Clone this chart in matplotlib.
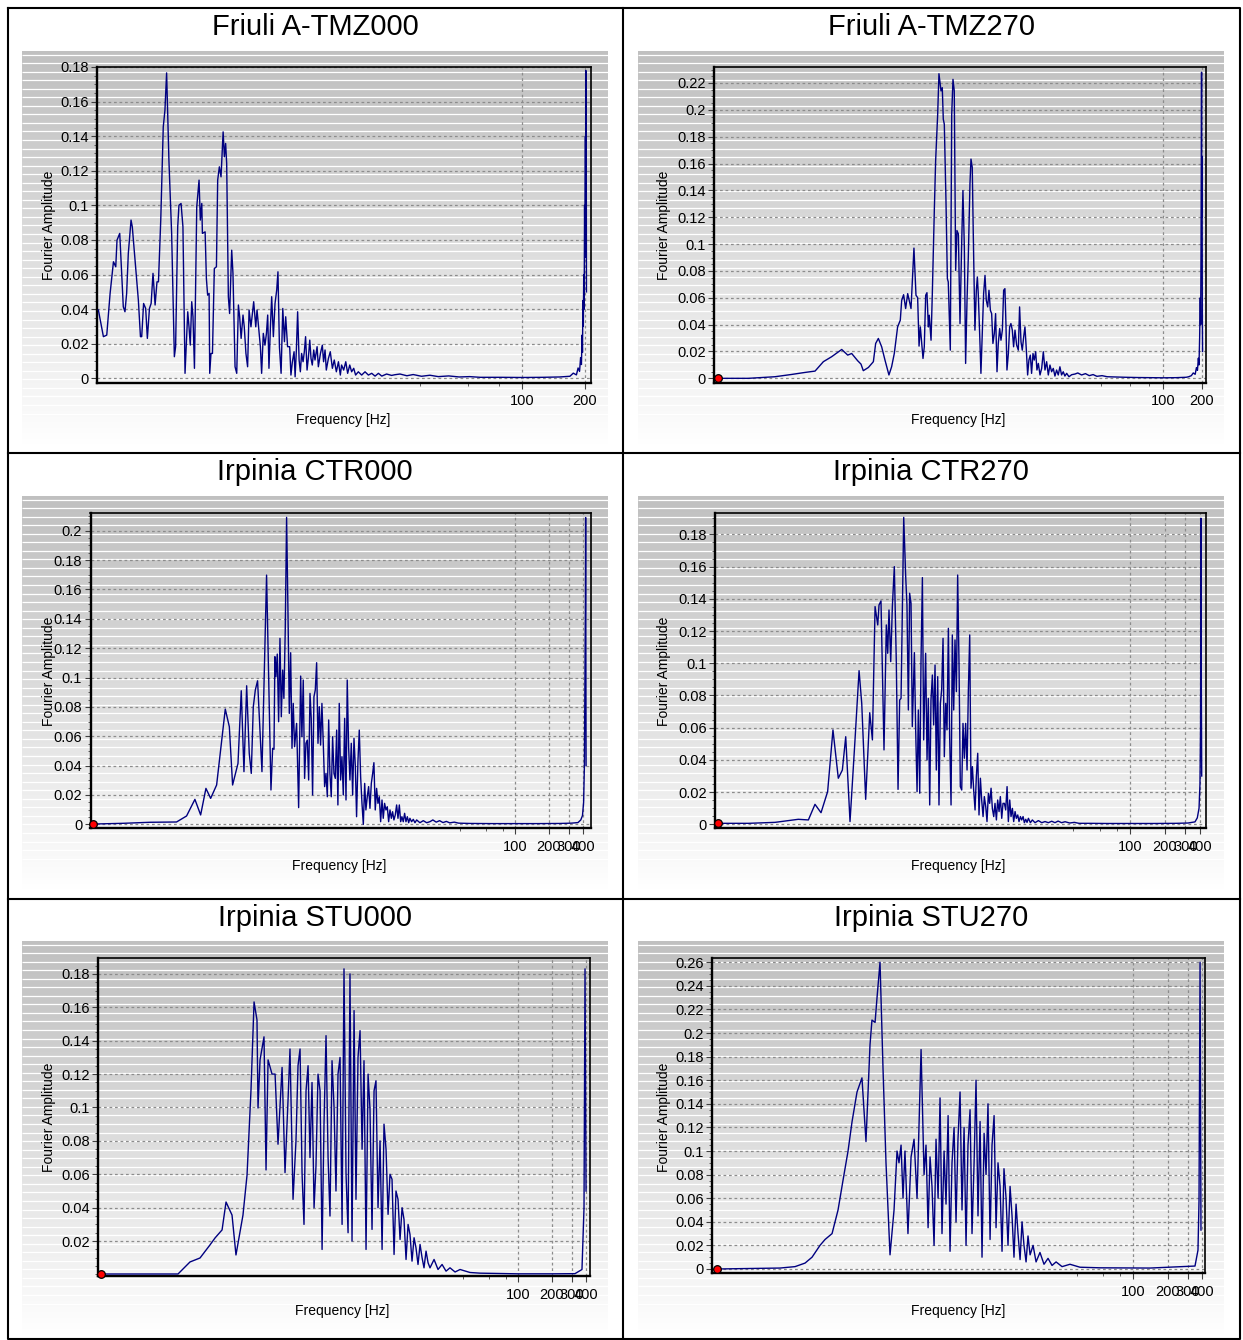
import numpy as np
import matplotlib
matplotlib.use("Agg")
import matplotlib.pyplot as plt
from matplotlib.ticker import FixedLocator, MultipleLocator, FuncFormatter, NullFormatter

plt.rcParams['font.family'] = ['Liberation Sans', 'DejaVu Sans']

# ---------------- data (log10 of frequency in Hz, Fourier amplitude) ----------------
friuli_tmz000_logf = [-0.024, -0.000, 0.016, 0.032, 0.048, 0.059, 0.065, 0.078, 0.084, 0.095, 0.103, 0.111, 0.119, 0.132, 0.138, 0.154, 0.167, 0.177, 0.183, 0.192, 0.202, 0.210, 0.220, 0.228, 0.237, 0.247, 0.256, 0.263, 0.274, 0.286, 0.294, 0.302, 0.313, 0.326, 0.339, 0.345, 0.355, 0.361, 0.371, 0.380, 0.390, 0.403, 0.409, 0.415, 0.422, 0.428, 0.435, 0.446, 0.457, 0.463, 0.470, 0.473, 0.486, 0.492, 0.498, 0.505, 0.508, 0.514, 0.521, 0.530, 0.540, 0.546, 0.554, 0.562, 0.572, 0.578, 0.584, 0.589, 0.597, 0.603, 0.613, 0.619, 0.629, 0.637, 0.645, 0.651, 0.658, 0.667, 0.673, 0.681, 0.689, 0.696, 0.705, 0.712, 0.718, 0.728, 0.734, 0.740, 0.750, 0.756, 0.764, 0.772, 0.779, 0.785, 0.791, 0.798, 0.804, 0.812, 0.820, 0.828, 0.834, 0.841, 0.849, 0.857, 0.865, 0.871, 0.880, 0.890, 0.896, 0.903, 0.911, 0.916, 0.922, 0.928, 0.935, 0.941, 0.947, 0.954, 0.960, 0.966, 0.973, 0.979, 0.986, 0.992, 0.998, 1.005, 1.011, 1.021, 1.027, 1.037, 1.046, 1.052, 1.059, 1.065, 1.075, 1.084, 1.094, 1.103, 1.113, 1.123, 1.132, 1.138, 1.148, 1.158, 1.167, 1.177, 1.186, 1.196, 1.205, 1.218, 1.234, 1.250, 1.266, 1.282, 1.298, 1.314, 1.330, 1.353, 1.377, 1.393,
                      1.417, 1.45, 1.48, 1.52, 1.56, 1.60, 1.65, 1.70, 1.75, 1.80, 1.90, 2.00, 2.10, 2.18, 2.229, 2.245, 2.26, 2.268, 2.275, 2.28, 2.284, 2.287, 2.289, 2.291, 2.293, 2.295, 2.297, 2.299, 2.301, 2.303, 2.304, 2.305, 2.306, 2.307, 2.308]
friuli_tmz000_amp = [0.0395, 0.0241, 0.0250, 0.0491, 0.0674, 0.0645, 0.0799, 0.0838, 0.0684, 0.0414, 0.0385, 0.0491, 0.0722, 0.0915, 0.0876, 0.0645, 0.0452, 0.0241, 0.0241, 0.0433, 0.0404, 0.0231, 0.0404, 0.0433, 0.0607, 0.0424, 0.0558, 0.0558, 0.0915, 0.1454, 0.1550, 0.1766, 0.1261, 0.0838, 0.0125, 0.0183, 0.0876, 0.1001, 0.1011, 0.0876, 0.0029, 0.0385, 0.0298, 0.0192, 0.0443, 0.0356, 0.0058, 0.0992, 0.1146, 0.0915, 0.1011, 0.0838, 0.0847, 0.0578, 0.0481, 0.0491, 0.0029, 0.0144, 0.0144, 0.0635, 0.0645, 0.1146, 0.1223, 0.1165, 0.1425, 0.1281, 0.1358, 0.1242, 0.0472, 0.0375, 0.0741, 0.0607, 0.0067, 0.0029, 0.0424, 0.0356, 0.0231, 0.0366, 0.0298, 0.0144, 0.0067, 0.0395, 0.0298, 0.0375, 0.0443, 0.0298, 0.0395, 0.0318, 0.0183, 0.0029, 0.0260, 0.0192, 0.0260, 0.0366, 0.0058, 0.0298, 0.0472, 0.0241, 0.0433, 0.0510, 0.0616, 0.0183, 0.0029, 0.0404, 0.0212, 0.0356, 0.0183, 0.0183, 0.0019, 0.0096, 0.0154, 0.0009, 0.0164, 0.0385, 0.0106, 0.0038, 0.0144, 0.0096, 0.0154, 0.0241, 0.0048, 0.0115, 0.0221, 0.0115, 0.0077, 0.0164, 0.0106, 0.0183, 0.0067, 0.0144, 0.0192, 0.0096, 0.0164, 0.0048, 0.0115, 0.0154, 0.0058, 0.0106, 0.0038, 0.0096, 0.0019, 0.0077, 0.0048, 0.0096, 0.0029, 0.0077, 0.0038, 0.0058, 0.0019, 0.0038, 0.0019, 0.0038, 0.0019, 0.0029, 0.0013, 0.0029, 0.0013, 0.0025, 0.0017, 0.0021,
                     0.0025, 0.0015, 0.0022, 0.0012, 0.0018, 0.0010, 0.0014, 0.0008, 0.0010, 0.0006, 0.0006, 0.0005, 0.0006, 0.0008, 0.0012, 0.0030, 0.0020, 0.0060, 0.0040, 0.0120, 0.0080, 0.0250, 0.0150, 0.0450, 0.0300, 0.0600, 0.0400, 0.1000, 0.0700, 0.1400, 0.0900, 0.1780, 0.1000, 0.1400, 0.0500]

friuli_tmz270_logf = [-1.492, -1.252, -1.043, -0.912, -0.808, -0.729, -0.664, -0.599, -0.520, -0.473, -0.442, -0.395, -0.369, -0.351, -0.311, -0.272, -0.254, -0.233, -0.207, -0.181, -0.150, -0.129, -0.108, -0.082, -0.061, -0.050, -0.035, -0.019, -0.003, 0.023, 0.046, 0.062, 0.075, 0.086, 0.096, 0.117, 0.127, 0.138, 0.148, 0.159, 0.166, 0.180, 0.190, 0.206, 0.216, 0.232, 0.242, 0.258, 0.268, 0.276, 0.284, 0.297, 0.308, 0.315, 0.331, 0.342, 0.352, 0.362, 0.373, 0.383, 0.394, 0.407, 0.420, 0.430, 0.441, 0.451, 0.462, 0.472, 0.485, 0.493, 0.503, 0.511, 0.524, 0.535, 0.543, 0.550, 0.561, 0.571, 0.582, 0.592, 0.603, 0.613, 0.624, 0.634, 0.645, 0.655, 0.665, 0.676, 0.686, 0.697, 0.707, 0.718, 0.728, 0.739, 0.749, 0.759, 0.767, 0.775, 0.786, 0.796, 0.806, 0.817, 0.827, 0.838, 0.851, 0.864, 0.874, 0.885, 0.895, 0.906, 0.916, 0.927, 0.937, 0.947, 0.958, 0.968, 0.979, 0.989, 1.000, 1.010, 1.021, 1.034, 1.047, 1.060, 1.073, 1.086, 1.099, 1.112, 1.125, 1.138, 1.151, 1.164, 1.177, 1.190, 1.203, 1.216, 1.229, 1.243, 1.261, 1.282, 1.308,
                      1.33, 1.36, 1.39, 1.42, 1.45, 1.48, 1.52, 1.56, 1.62, 1.70, 1.80, 1.90, 2.00, 2.10, 2.18, 2.20, 2.22, 2.235, 2.25, 2.26, 2.268, 2.275, 2.28, 2.285, 2.29, 2.293, 2.296, 2.298, 2.300, 2.302, 2.304, 2.306, 2.308]
friuli_tmz270_amp = [0.0000, 0.0000, 0.0012, 0.0029, 0.0044, 0.0054, 0.0124, 0.0161, 0.0215, 0.0173, 0.0185, 0.0131, 0.0106, 0.0057, 0.0081, 0.0124, 0.0260, 0.0297, 0.0235, 0.0136, 0.0025, 0.0086, 0.0185, 0.0383, 0.0433, 0.0581, 0.0623, 0.0520, 0.0631, 0.0520, 0.0970, 0.0619, 0.0601, 0.0240, 0.0383, 0.0148, 0.0235, 0.0619, 0.0638, 0.0383, 0.0470, 0.0284, 0.0631, 0.1262, 0.1621, 0.1967, 0.2269, 0.2141, 0.2165, 0.1930, 0.1893, 0.1324, 0.0742, 0.0718, 0.0210, 0.1967, 0.2227, 0.2141, 0.0804, 0.1101, 0.1076, 0.0408, 0.1002, 0.1398, 0.0977, 0.0111, 0.0581, 0.0903, 0.1448, 0.1633, 0.1571, 0.1076, 0.0359, 0.0656, 0.0755, 0.0631, 0.0334, 0.0037, 0.0359, 0.0631, 0.0767, 0.0581, 0.0532, 0.0656, 0.0507, 0.0482, 0.0260, 0.0334, 0.0482, 0.0049, 0.0260, 0.0371, 0.0284, 0.0359, 0.0656, 0.0668, 0.0408, 0.0062, 0.0185, 0.0383, 0.0408, 0.0359, 0.0235, 0.0359, 0.0247, 0.0210, 0.0532, 0.0272, 0.0210, 0.0309, 0.0383, 0.0210, 0.0025, 0.0136, 0.0173, 0.0037, 0.0185, 0.0136, 0.0198, 0.0062, 0.0111, 0.0025, 0.0074, 0.0198, 0.0062, 0.0124, 0.0025, 0.0099, 0.0049, 0.0074, 0.0017, 0.0062, 0.0025, 0.0086, 0.0025, 0.0049, 0.0017, 0.0037, 0.0012, 0.0027, 0.0032,
                     0.0040, 0.0025, 0.0035, 0.0020, 0.0028, 0.0015, 0.0020, 0.0012, 0.0010, 0.0008, 0.0006, 0.0005, 0.0004, 0.0005, 0.0008, 0.0012, 0.0020, 0.0040, 0.0030, 0.0080, 0.0060, 0.0150, 0.0100, 0.0300, 0.0600, 0.0400, 0.1000, 0.1600, 0.2280, 0.1200, 0.1650, 0.0500, 0.0200]

irpinia_ctr000_logf = [-1.748, -1.482, -1.245, -1.008, -0.919, -0.845, -0.794, -0.747, -0.705, -0.652, -0.617, -0.575, -0.539, -0.510, -0.462, -0.433, -0.409, -0.385, -0.362, -0.344, -0.326, -0.308, -0.288, -0.249, -0.208, -0.169, -0.154, -0.142, -0.134, -0.125, -0.113, -0.101, -0.089, -0.077, -0.065, -0.054, -0.042, -0.030, -0.018, -0.006, 0.006, 0.018, 0.029, 0.041, 0.059, 0.077, 0.095, 0.106, 0.118, 0.130, 0.142, 0.154, 0.166, 0.178, 0.189, 0.201, 0.213, 0.225, 0.237, 0.249, 0.261, 0.272, 0.284, 0.296, 0.308, 0.320, 0.332, 0.344, 0.355, 0.367, 0.379, 0.391, 0.403, 0.415, 0.426, 0.438, 0.450, 0.462, 0.474, 0.486, 0.498, 0.509, 0.521, 0.533, 0.545, 0.557, 0.569, 0.581, 0.592, 0.604, 0.616, 0.628, 0.640, 0.652, 0.664, 0.675, 0.687, 0.699, 0.711, 0.723, 0.735, 0.746, 0.758, 0.770, 0.782, 0.794, 0.806, 0.818, 0.829, 0.841, 0.853, 0.865, 0.877, 0.889, 0.901, 0.912, 0.924, 0.936, 0.948, 0.960, 0.972, 0.984, 0.995, 1.007, 1.019, 1.031, 1.043, 1.055, 1.066, 1.081, 1.096, 1.111, 1.126, 1.155, 1.185, 1.215, 1.244,
                       1.27, 1.30, 1.33, 1.36, 1.39, 1.42, 1.46, 1.50, 1.60, 1.80, 2.00, 2.20, 2.40, 2.50, 2.56, 2.585, 2.60, 2.61, 2.617, 2.622, 2.626, 2.628, 2.630, 2.632]
irpinia_ctr000_amp = [0.0002, 0.0007, 0.0014, 0.0016, 0.0057, 0.0170, 0.0064, 0.0245, 0.0177, 0.0268, 0.0506, 0.0785, 0.0665, 0.0268, 0.0415, 0.0910, 0.0359, 0.0944, 0.0484, 0.0347, 0.0801, 0.0915, 0.0978, 0.0359, 0.1698, 0.0234, 0.0518, 0.0511, 0.1142, 0.1006, 0.1160, 0.0699, 0.1267, 0.0733, 0.1051, 0.0858, 0.1323, 0.2091, 0.1460, 0.0756, 0.1169, 0.0518, 0.0824, 0.0529, 0.0688, 0.0114, 0.1010, 0.0597, 0.0983, 0.0313, 0.0552, 0.0574, 0.0302, 0.0892, 0.0722, 0.0200, 0.0869, 0.0915, 0.1101, 0.0552, 0.0801, 0.0540, 0.0824, 0.0552, 0.0257, 0.0347, 0.0188, 0.0711, 0.0347, 0.0188, 0.0597, 0.0347, 0.0313, 0.0642, 0.0132, 0.0824, 0.0302, 0.0461, 0.0200, 0.0722, 0.0166, 0.0983, 0.0529, 0.0302, 0.0552, 0.0200, 0.0586, 0.0393, 0.0052, 0.0427, 0.0642, 0.0325, 0.0143, 0.0000, 0.0279, 0.0098, 0.0188, 0.0257, 0.0109, 0.0279, 0.0347, 0.0420, 0.0098, 0.0245, 0.0143, 0.0188, 0.0018, 0.0166, 0.0041, 0.0143, 0.0098, 0.0120, 0.0018, 0.0098, 0.0041, 0.0086, 0.0030, 0.0064, 0.0132, 0.0041, 0.0132, 0.0018, 0.0052, 0.0018, 0.0075, 0.0018, 0.0052, 0.0011, 0.0041, 0.0018, 0.0034, 0.0011, 0.0030, 0.0011, 0.0025, 0.0011, 0.0018,
                      0.0030, 0.0015, 0.0025, 0.0012, 0.0020, 0.0010, 0.0015, 0.0008, 0.0006, 0.0005, 0.0005, 0.0005, 0.0006, 0.0008, 0.0012, 0.0030, 0.0060, 0.0150, 0.0400, 0.1000, 0.1500, 0.2090, 0.1200, 0.0400]

irpinia_ctr270_logf = [-1.555, -1.291, -1.061, -0.860, -0.773, -0.716, -0.664, -0.607, -0.561, -0.515, -0.480, -0.451, -0.414, -0.371, -0.336, -0.313, -0.279, -0.244, -0.221, -0.198, -0.175, -0.164, -0.147, -0.121, -0.101, -0.089, -0.078, -0.063, -0.049, -0.032, -0.015, -0.000, 0.014, 0.026, 0.049, 0.066, 0.077, 0.089, 0.100, 0.112, 0.123, 0.141, 0.152, 0.164, 0.175, 0.187, 0.198, 0.210, 0.221, 0.238, 0.250, 0.261, 0.273, 0.284, 0.296, 0.307, 0.319, 0.330, 0.342, 0.353, 0.365, 0.376, 0.388, 0.399, 0.411, 0.422, 0.434, 0.445, 0.457, 0.468, 0.480, 0.491, 0.503, 0.514, 0.526, 0.537, 0.549, 0.560, 0.572, 0.583, 0.595, 0.606, 0.618, 0.629, 0.641, 0.652, 0.664, 0.675, 0.687, 0.698, 0.710, 0.721, 0.733, 0.744, 0.756, 0.767, 0.779, 0.790, 0.802, 0.813, 0.825, 0.836, 0.848, 0.859, 0.871, 0.882, 0.894, 0.905, 0.917, 0.928, 0.940, 0.951, 0.963, 0.974, 0.986, 0.997, 1.009, 1.020, 1.032, 1.043, 1.055, 1.066, 1.078, 1.089, 1.101, 1.112, 1.124, 1.141, 1.158, 1.181, 1.210, 1.239, 1.267, 1.296, 1.325, 1.353,
                       1.38, 1.41, 1.44, 1.48, 1.52, 1.56, 1.65, 1.80, 2.00, 2.20, 2.40, 2.50, 2.56, 2.58, 2.595, 2.603, 2.608, 2.612, 2.615, 2.618]
irpinia_ctr270_amp = [0.0006, 0.0006, 0.0012, 0.0031, 0.0027, 0.0124, 0.0072, 0.0203, 0.0586, 0.0286, 0.0337, 0.0544, 0.0017, 0.0524, 0.0954, 0.0751, 0.0155, 0.0693, 0.0524, 0.1352, 0.1238, 0.1362, 0.1387, 0.0462, 0.1238, 0.1062, 0.1331, 0.1010, 0.1352, 0.1600, 0.1010, 0.0217, 0.0772, 0.0782, 0.1906, 0.1538, 0.1362, 0.0710, 0.1435, 0.1372, 0.0607, 0.1066, 0.0586, 0.0203, 0.0710, 0.0193, 0.1010, 0.1532, 0.0524, 0.1062, 0.0400, 0.0782, 0.0120, 0.0772, 0.0927, 0.0617, 0.0989, 0.0337, 0.0917, 0.0120, 0.0751, 0.0834, 0.1155, 0.0420, 0.0751, 0.0586, 0.1217, 0.0544, 0.0120, 0.1176, 0.0710, 0.1145, 0.0824, 0.1548, 0.0979, 0.0234, 0.0213, 0.0627, 0.0410, 0.0627, 0.0337, 0.0824, 0.1176, 0.0224, 0.0358, 0.0213, 0.0089, 0.0296, 0.0441, 0.0058, 0.0286, 0.0151, 0.0048, 0.0172, 0.0110, 0.0017, 0.0193, 0.0130, 0.0224, 0.0099, 0.0048, 0.0130, 0.0027, 0.0151, 0.0079, 0.0172, 0.0037, 0.0130, 0.0130, 0.0089, 0.0234, 0.0017, 0.0151, 0.0048, 0.0099, 0.0017, 0.0079, 0.0037, 0.0058, 0.0017, 0.0048, 0.0027, 0.0048, 0.0010, 0.0031, 0.0012, 0.0037, 0.0010, 0.0027, 0.0010, 0.0023, 0.0010, 0.0017, 0.0010, 0.0019, 0.0010,
                      0.0020, 0.0010, 0.0016, 0.0008, 0.0012, 0.0006, 0.0006, 0.0005, 0.0005, 0.0005, 0.0006, 0.0008, 0.0015, 0.0040, 0.0100, 0.0250, 0.0600, 0.1900, 0.0800, 0.0300]

irpinia_stu000_logf = [-1.690, -1.009, -0.903, -0.814, -0.726, -0.681, -0.619, -0.584, -0.531, -0.496, -0.434, -0.398, -0.363, -0.336, -0.310, -0.301, -0.283, -0.248, -0.230, -0.212,
                       -0.177, -0.150, -0.124, -0.088, -0.062, -0.035, -0.018, 0.009,
                       0.035, 0.053, 0.071, 0.089, 0.106, 0.124, 0.142, 0.159, 0.177, 0.195, 0.212, 0.230, 0.248, 0.266, 0.283, 0.301, 0.319, 0.336, 0.354, 0.372, 0.389, 0.407, 0.425, 0.443, 0.460, 0.478, 0.496, 0.513, 0.531, 0.549, 0.566, 0.584, 0.602, 0.620, 0.637, 0.655, 0.673, 0.690, 0.708, 0.726, 0.743, 0.761, 0.779, 0.797, 0.814, 0.832, 0.850, 0.867, 0.885, 0.903, 0.920, 0.938, 0.956, 0.974, 0.991, 1.009, 1.027, 1.044, 1.062, 1.080, 1.097, 1.115, 1.133, 1.151, 1.168, 1.186, 1.204, 1.221, 1.257, 1.292, 1.328, 1.363, 1.398, 1.443, 1.487, 1.575, 1.664,
                       2.000, 2.300, 2.504, 2.566, 2.584, 2.593, 2.602]
irpinia_stu000_amp = [0.0003, 0.0003, 0.0075, 0.0099, 0.0177, 0.0219, 0.0267, 0.0434, 0.0356, 0.0117, 0.0356, 0.0596, 0.1105, 0.1632, 0.1524, 0.0997, 0.1285, 0.1423, 0.0626, 0.1285,
                      0.120, 0.120, 0.078, 0.124, 0.061, 0.105, 0.135, 0.045,
                      0.080, 0.125, 0.135, 0.060, 0.030, 0.110, 0.125, 0.070, 0.115, 0.040, 0.065, 0.120, 0.110, 0.015, 0.090, 0.143, 0.070, 0.035, 0.128, 0.100, 0.050, 0.120, 0.130, 0.030, 0.183, 0.060, 0.025, 0.180, 0.020, 0.158, 0.045, 0.130, 0.146, 0.075, 0.128, 0.015, 0.120, 0.099, 0.027, 0.110, 0.116, 0.040, 0.080, 0.015, 0.090, 0.075, 0.036, 0.060, 0.057, 0.012, 0.050, 0.045, 0.021, 0.040, 0.033, 0.009, 0.030, 0.024, 0.008, 0.022, 0.016, 0.006, 0.018, 0.010, 0.004, 0.014, 0.007, 0.004, 0.009, 0.003, 0.006, 0.002, 0.004, 0.0015, 0.003, 0.0012, 0.0008,
                      0.0004, 0.0004, 0.0005, 0.0030, 0.0400, 0.1830, 0.0500]

irpinia_stu270_logf = [-1.617, -1.070, -0.939, -0.852, -0.791, -0.722, -0.678, -0.617, -0.565, -0.522, -0.478, -0.443, -0.400, -0.357, -0.322, -0.287, -0.270, -0.243, -0.226, -0.200, -0.174, -0.148, -0.113, -0.078, -0.052, -0.035, -0.017, 0.000, 0.017, 0.043, 0.070, 0.096, 0.122, 0.157,
                       0.183, 0.200, 0.218, 0.235, 0.252, 0.270, 0.287, 0.305, 0.322, 0.339, 0.357, 0.374, 0.392, 0.409, 0.426, 0.444, 0.461, 0.478, 0.496, 0.513, 0.531, 0.548, 0.565, 0.583, 0.600, 0.618, 0.635, 0.652, 0.670, 0.687, 0.705, 0.722, 0.739, 0.757, 0.774, 0.792, 0.809, 0.826, 0.844, 0.861, 0.878, 0.896, 0.913, 0.931, 0.948, 0.965, 0.983, 1.000, 1.018, 1.035, 1.052, 1.070, 1.087, 1.105, 1.131, 1.157, 1.191, 1.226, 1.261, 1.296, 1.331, 1.383, 1.452, 1.539, 1.713,
                       2.148, 2.539, 2.565, 2.574, 2.583, 2.591]
irpinia_stu270_amp = [0.0000, 0.0008, 0.0020, 0.0050, 0.0100, 0.0200, 0.0250, 0.0300, 0.0500, 0.0750, 0.1000, 0.1250, 0.1500, 0.1620, 0.1080, 0.1900, 0.2110, 0.2090, 0.2300, 0.2600, 0.1700, 0.0900, 0.0120, 0.0500, 0.1000, 0.0900, 0.1050, 0.0600, 0.1000, 0.0300, 0.0950, 0.1100, 0.0600, 0.1860,
                      0.080, 0.105, 0.035, 0.095, 0.070, 0.020, 0.110, 0.060, 0.145, 0.030, 0.100, 0.055, 0.130, 0.015, 0.090, 0.120, 0.040, 0.110, 0.150, 0.050, 0.120, 0.020, 0.105, 0.135, 0.030, 0.090, 0.160, 0.045, 0.125, 0.010, 0.115, 0.080, 0.140, 0.025, 0.105, 0.130, 0.035, 0.090, 0.070, 0.015, 0.085, 0.060, 0.020, 0.070, 0.045, 0.010, 0.055, 0.030, 0.008, 0.040, 0.020, 0.006, 0.028, 0.012, 0.020, 0.006, 0.014, 0.004, 0.009, 0.003, 0.006, 0.002, 0.004, 0.0015, 0.001,
                      0.0008, 0.0025, 0.0160, 0.0580, 0.2600, 0.0330]

titles = ['Friuli A-TMZ000', 'Friuli A-TMZ270', 'Irpinia CTR000', 'Irpinia CTR270', 'Irpinia STU000', 'Irpinia STU270']
x_label = 'Frequency [Hz]'
y_label = 'Fourier Amplitude'
xtick_friuli = [100, 200]
xtick_irpinia = [100, 200, 300, 400]
xtick_minor = [32.5, 55, 77.5]

series = [
    (friuli_tmz000_logf, friuli_tmz000_amp),
    (friuli_tmz270_logf, friuli_tmz270_amp),
    (irpinia_ctr000_logf, irpinia_ctr000_amp),
    (irpinia_ctr270_logf, irpinia_ctr270_amp),
    (irpinia_stu000_logf, irpinia_stu000_amp),
    (irpinia_stu270_logf, irpinia_stu270_amp),
]

# ---------------- layout (pixels) ----------------
W, H = 1243, 1340
layout = [
    dict(box=(97, 67, 591, 382.5), ylim=(-0.0024, 0.18), xlim=(-0.0306, 2.3297), yt=(0.0, 0.18), xt=xtick_friuli, dot=False),
    dict(box=(714, 67, 1205.5, 382.5), ylim=(-0.0031, 0.2319), xlim=(-1.521, 2.331), yt=(0.0, 0.22), xt=xtick_friuli, dot=True),
    dict(box=(90.5, 512.7, 590.7, 828.3), ylim=(-0.0027, 0.2123), xlim=(-1.773, 2.673), yt=(0.0, 0.20), xt=xtick_irpinia, dot=True),
    dict(box=(715, 512.7, 1206, 828), ylim=(-0.0023, 0.1935), xlim=(-1.578, 2.655), yt=(0.0, 0.18), xt=xtick_irpinia, dot=True),
    dict(box=(98, 958, 590, 1276), ylim=(-0.0009, 0.1895), xlim=(-1.717, 2.637), yt=(0.02, 0.18), xt=xtick_irpinia, dot=True),
    dict(box=(712, 958, 1205, 1273), ylim=(-0.0034, 0.2636), xlim=(-1.661, 2.626), yt=(0.0, 0.26), xt=xtick_irpinia, dot=True),
]
title_pos = [(315, 27), (931, 27), (315, 472), (931, 472), (315, 918), (931, 918)]
xlabel_pos = [(343, 420), (958, 420), (339, 866), (958, 866), (342, 1311), (958, 1311)]
ylabel_pos = [(49, 225), (664, 225), (49, 671), (664, 671), (49, 1117), (664, 1117)]
bg_cols = [(22, 608), (638, 1224)]
bg_rows = [(51, 445), (496, 890), (941, 1335)]

fig = plt.figure(figsize=(W / 100, H / 100), dpi=100)
fig.patch.set_facecolor('white')

bg = fig.add_axes([0, 0, 1, 1])
bg.set_xlim(0, W)
bg.set_ylim(H, 0)
bg.axis('off')

for (y0, y1) in bg_rows:
    t = np.linspace(0, 1, 256)
    g = 0.755 + 0.245 * t ** 1.15
    img = np.repeat(g[:, None], 2, axis=1)
    rgb = np.dstack([img, img, img])
    for (x0, x1) in bg_cols:
        bg.imshow(rgb, extent=(x0, x1, y1, y0), aspect='auto', interpolation='bilinear', zorder=0)
        ys = np.arange(y0 + 3.5, y1 - 25, 8.55)
        bg.hlines(ys, x0, x1, colors='white', linewidth=0.9, zorder=1)

# table borders
lw_tab = 1.5
bg.plot([8, 1240, 1240, 8, 8], [8, 8, 1339, 1339, 8], color='black', lw=lw_tab, zorder=3)
bg.plot([623, 623], [8, 1339], color='black', lw=lw_tab, zorder=3)
bg.plot([8, 1240], [453, 453], color='black', lw=lw_tab, zorder=3)
bg.plot([8, 1240], [899, 899], color='black', lw=lw_tab, zorder=3)
bg.set_xlim(0, W)
bg.set_ylim(H, 0)


def rect(l, t, r, b):
    return [l / W, 1 - b / H, (r - l) / W, (b - t) / H]


fmt = FuncFormatter(lambda v, p: f"{round(v, 4):g}")
grid_kw = dict(color='#8c8c8c', linestyle=(0, (2.2, 2.2)), linewidth=0.9)

for i, ((lf, amp), L) in enumerate(zip(series, layout)):
    assert len(lf) == len(amp), (i, len(lf), len(amp))
    ax = fig.add_axes(rect(*L['box']))
    ax.patch.set_alpha(0)
    freq = 10 ** np.array(lf)
    ax.plot(freq, amp, color='#000080', lw=1.0, zorder=3)
    if L['dot']:
        ax.plot(freq[0], amp[0], 'o', ms=5.5, mfc='#ff0000', mec='black', mew=0.9, clip_on=False, zorder=5)
    ax.set_xscale('log')
    ax.set_xlim(10 ** L['xlim'][0], 10 ** L['xlim'][1])
    ax.set_ylim(*L['ylim'])
    ax.xaxis.set_major_locator(FixedLocator(L['xt']))
    ax.xaxis.set_major_formatter(FuncFormatter(lambda v, p: f"{v:g}"))
    ax.xaxis.set_minor_locator(FixedLocator(xtick_minor))
    ax.xaxis.set_minor_formatter(NullFormatter())
    yt = np.round(np.arange(L['yt'][0], L['yt'][1] + 1e-9, 0.02), 4)
    ax.yaxis.set_major_locator(FixedLocator(yt))
    ax.yaxis.set_major_formatter(fmt)
    ax.yaxis.set_minor_locator(MultipleLocator(0.005))
    for s in ['left', 'bottom']:
        ax.spines[s].set_linewidth(1.7)
    for s in ['top', 'right']:
        ax.spines[s].set_linewidth(1.2)
    ax.tick_params(axis='both', which='major', direction='out', length=4, width=0.8,
                   color='#404040', labelsize=10.5, labelcolor='black')
    ax.tick_params(axis='y', which='major', pad=2)
    ax.tick_params(axis='x', which='major', pad=4.5)
    ax.tick_params(axis='both', which='minor', direction='out', length=2.5, width=0.7, color='#606060')
    ax.tick_params(top=False, right=False, which='both')
    ax.grid(True, axis='y', which='major', **grid_kw)
    ax.grid(True, axis='x', which='major', **grid_kw)
    ax.set_axisbelow(True)

    tx, ty = title_pos[i]
    fig.text(tx / W, 1 - ty / H, titles[i], ha='center', va='center', fontsize=21)
    xx, xy = xlabel_pos[i]
    fig.text(xx / W, 1 - xy / H, x_label, ha='center', va='center', fontsize=10)
    yx, yy = ylabel_pos[i]
    fig.text(yx / W, 1 - yy / H, y_label, ha='center', va='center', rotation=90, fontsize=10)

fig.savefig('out.png', dpi=100, facecolor='white')
